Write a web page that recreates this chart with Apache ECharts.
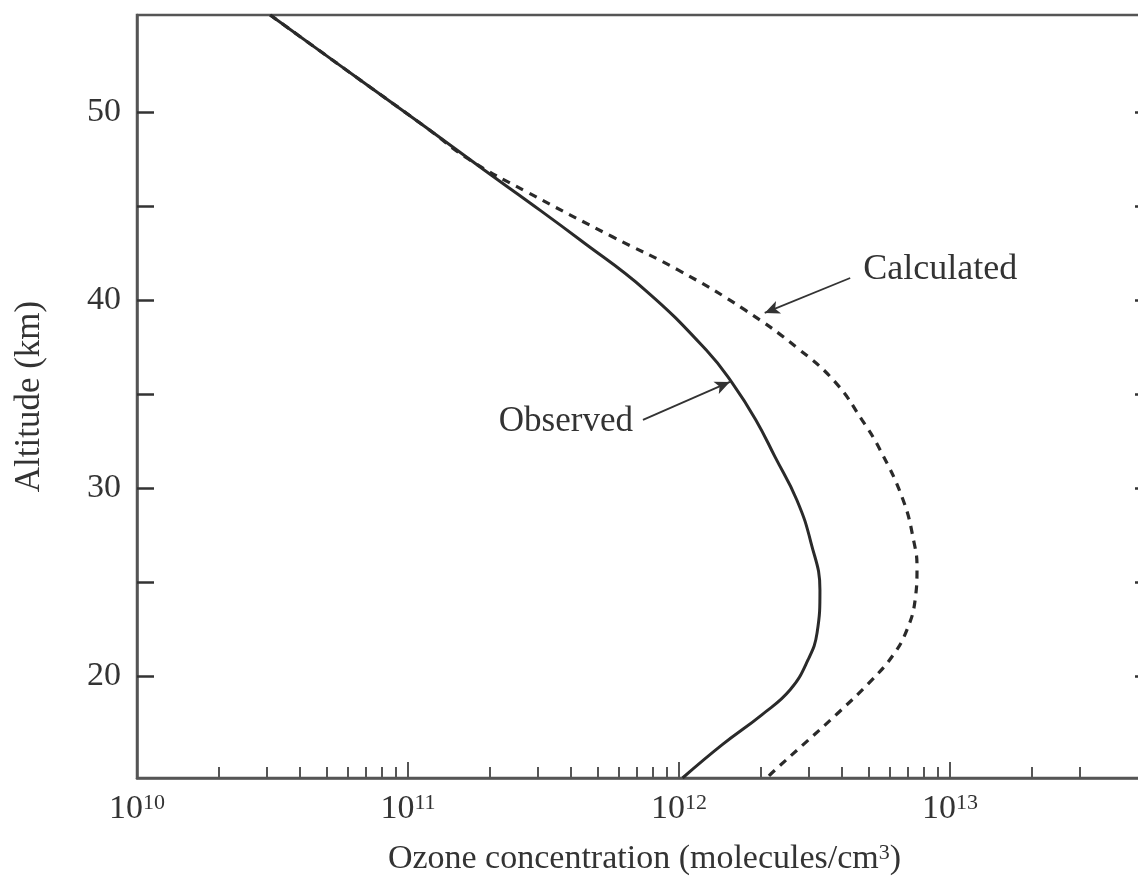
<!DOCTYPE html>
<html><head><meta charset="utf-8">
<script src="https://cdn.jsdelivr.net/npm/echarts@6/dist/echarts.min.js"></script>
<style>html,body{margin:0;padding:0;background:#fff}#c{width:1138px;height:879px}</style>
</head><body><div id="c"></div>
<script>
// ---- data ----
const seriesNames = ['Observed', 'Calculated'];
const altitudeObserved = [55.16, 51.86, 49.2, 46.91, 45.16, 43.19, 40.53, 37.34, 35.59, 33.62, 31.65, 29.36, 27.07, 24.57, 22.29, 20.85, 19.26, 17.93, 16.33, 14.57];
const concObserved     = [3.10e10, 6.43e10, 1.16e11, 1.91e11, 2.82e11, 4.32e11, 7.50e11, 1.26e12, 1.57e12, 1.92e12, 2.26e12, 2.72e12, 3.07e12, 3.31e12, 3.23e12, 2.99e12, 2.57e12, 2.02e12, 1.44e12, 1.03e12];
const altitudeCalculated = [55.16, 51.86, 49.2, 47.45, 45.74, 43.35, 41.6, 39.47, 37.34, 35.59, 33.62, 32.02, 29.36, 27.07, 25.8, 24.04, 22.45, 21.12, 19.79, 18.03, 16.44, 14.89, 14.57];
const concCalculated     = [3.10e10, 6.43e10, 1.16e11, 1.69e11, 2.75e11, 5.70e11, 9.91e11, 1.75e12, 2.79e12, 3.79e12, 4.73e12, 5.52e12, 6.71e12, 7.37e12, 7.55e12, 7.43e12, 6.93e12, 6.17e12, 5.15e12, 3.86e12, 2.92e12, 2.22e12, 2.11e12];
const xMajorTicks = [1e10, 1e11, 1e12, 1e13];
const xMinorTicks = [2e10,3e10,4e10,5e10,6e10,7e10,8e10,9e10, 2e11,3e11,4e11,5e11,6e11,7e11,8e11,9e11, 2e12,3e12,4e12,5e12,6e12,7e12,8e12,9e12, 2e13,3e13];
const yTickValues = [20, 25, 30, 35, 40, 45, 50];
const yLabelValues = [20, 30, 40, 50];
const xTitle = 'Ozone concentration (molecules/cm{s|3})';
const yTitle = 'Altitude (km)';
// annotation anchors (data space)
const calcLabelAt = [4.78e12, 41.6];
const calcArrowFrom = [4.28e12, 41.17];
const calcArrowTo = [2.07e12, 39.31];
const obsLabelAt = [6.76e11, 33.5];
const obsArrowFrom = [7.36e11, 33.62];
const obsArrowTo = [1.54e12, 35.64];

const FONT = 'Liberation Serif';
const INK = '#2a2a2a';
const AXIS = '#555';
const X_MIN = 1e10, X_MAX = Math.pow(10, 13.745);
const Y_MIN = 14.57, Y_MAX = 55.16;

const zip = (xs, ys) => xs.map((x, i) => [x, ys[i]]);

const chart = echarts.init(document.getElementById('c'), null, {renderer: 'canvas'});
const supRich = {
  b: {fontFamily: FONT, fontSize: 34, color: '#333', lineHeight: 34},
  s: {fontFamily: FONT, fontSize: 22, color: '#333', lineHeight: 22, verticalAlign: 'top'}
};
chart.setOption({
  animation: false,
  backgroundColor: '#fff',
  grid: {left: 137, top: 15, width: 1015, height: 763, show: true, borderColor: AXIS, borderWidth: 2.5,
         containLabel: false, outerBoundsMode: 'none'},
  xAxis: [{
    type: 'log', logBase: 10, min: X_MIN, max: X_MAX, position: 'bottom',
    axisLine: {show: true, lineStyle: {color: AXIS, width: 2.5}},
    axisTick: {show: true, inside: true, length: 16, customValues: xMajorTicks, lineStyle: {color: AXIS, width: 2}},
    axisLabel: {show: true, margin: 14, customValues: xMajorTicks, showMinLabel: true, showMaxLabel: true,
      formatter: v => '{b|10}{s|' + Math.round(Math.log10(v)) + '}', rich: supRich},
    splitLine: {show: false}, minorTick: {show: false},
    name: xTitle, nameLocation: 'middle', nameGap: 64,
    nameTextStyle: {fontFamily: FONT, fontSize: 34, color: '#333', rich: {s: {fontFamily: FONT, fontSize: 22, color: '#333', verticalAlign: 'top', lineHeight: 22}}}
  }, {
    type: 'log', logBase: 10, min: X_MIN, max: X_MAX, position: 'bottom',
    axisLine: {show: false},
    axisTick: {show: true, inside: true, length: 11, customValues: xMinorTicks, lineStyle: {color: AXIS, width: 2}},
    axisLabel: {show: false}, splitLine: {show: false}
  }],
  yAxis: [{
    type: 'value', min: Y_MIN, max: Y_MAX, position: 'left',
    axisLine: {show: true, lineStyle: {color: AXIS, width: 2.5}},
    axisTick: {show: true, inside: true, length: 17, customValues: yTickValues, lineStyle: {color: '#333', width: 2.5}},
    axisLabel: {show: true, margin: 16, customValues: yLabelValues, fontFamily: FONT, fontSize: 34, color: '#333'},
    splitLine: {show: false},
    name: yTitle, nameLocation: 'middle', nameGap: 90, nameRotate: 90,
    nameTextStyle: {fontFamily: FONT, fontSize: 35, color: '#333'}
  }, {
    type: 'value', min: Y_MIN, max: Y_MAX, position: 'right',
    axisLine: {show: true, lineStyle: {color: AXIS, width: 2.5}},
    axisTick: {show: true, inside: true, length: 17, customValues: yTickValues, lineStyle: {color: '#333', width: 2.5}},
    axisLabel: {show: false}, splitLine: {show: false}
  }],
  series: [{
    name: seriesNames[0], type: 'line', xAxisIndex: 0, yAxisIndex: 0,
    data: zip(concObserved, altitudeObserved), showSymbol: false, symbol: 'none', smooth: 0.45,
    lineStyle: {color: INK, width: 3, type: 'solid'}, z: 3,
    markLine: {
      silent: true, symbol: ['none', 'arrow'], symbolSize: [10, 15], label: {show: false},
      lineStyle: {color: '#333', width: 1.8, type: 'solid'},
      data: [
        [{coord: calcArrowFrom}, {coord: calcArrowTo}],
        [{coord: obsArrowFrom}, {coord: obsArrowTo}]
      ]
    },
    markPoint: {
      silent: true, symbol: 'circle', symbolSize: 0,
      data: [
        {coord: calcLabelAt, label: {show: true, position: 'right', distance: 0, formatter: seriesNames[1], fontFamily: FONT, fontSize: 36, color: '#333'}},
        {coord: obsLabelAt, label: {show: true, position: 'left', distance: 0, formatter: seriesNames[0], fontFamily: FONT, fontSize: 35, color: '#333'}}
      ]
    }
  }, {
    name: seriesNames[1], type: 'line', xAxisIndex: 0, yAxisIndex: 0,
    data: zip(concCalculated, altitudeCalculated), showSymbol: false, symbol: 'none', smooth: 0.45,
    lineStyle: {color: INK, width: 3.2, type: [8, 7]}, z: 2
  }]
});
</script></body></html>
